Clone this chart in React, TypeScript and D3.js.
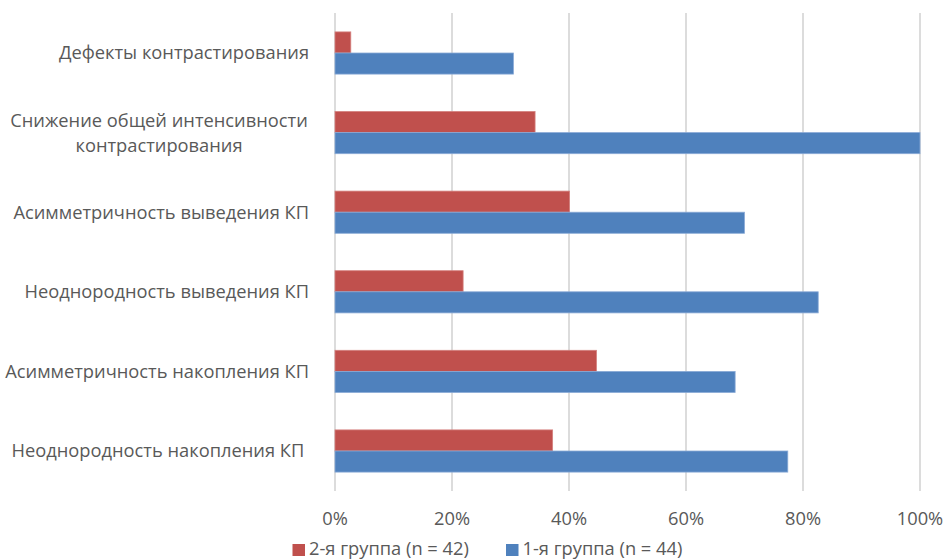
import React from "react";
import * as d3 from "d3";

// Categories, listed top to bottom
const categories: string[][] = [
  ["Дефекты контрастирования"],
  ["Снижение общей интенсивности", "контрастирования"],
  ["Асимметричность выведения КП"],
  ["Неоднородность выведения КП"],
  ["Асимметричность накопления КП"],
  ["Неоднородность накопления КП\u00a0"],
];

// Share of patients, per group (%)
const group2Values = [2.7, 34.2, 40.1, 21.9, 44.7, 37.2];
const group1Values = [30.5, 100, 70.0, 82.6, 68.4, 77.4];

const seriesNames = ["2-я группа (n = 42)", "1-я группа (n = 44)"];
const seriesColors = ["#C0504D", "#4F81BD"];

const xTicks = [0, 20, 40, 60, 80, 100];

const W = 945;
const H = 559;
const FONT = "'Open Sans', 'Noto Sans', sans-serif";
const TEXT = "#595959";
const FS = 18.3;

export default function App() {
  const x = d3.scaleLinear().domain([0, 100]).range([335, 920]);
  const keys = categories.map((_, i) => String(i));
  const y = d3
    .scaleBand<string>()
    .domain(keys)
    .range([13.2, 490.8])
    .paddingInner(0.47)
    .paddingOuter(0.235);
  const sub = d3
    .scaleBand<string>()
    .domain(["g2", "g1"])
    .range([0, y.bandwidth()]);

  const series = [
    { key: "g2", values: group2Values, color: seriesColors[0] },
    { key: "g1", values: group1Values, color: seriesColors[1] },
  ];

  const fmt = (v: number) => `${v}%`;

  return (
    <svg
      width={W}
      height={H}
      style={{ position: "absolute", left: 0, top: 0, background: "#fff" }}
      fontFamily={FONT}
    >
      {/* vertical gridlines */}
      {xTicks.map((t) => (
        <line
          key={t}
          x1={x(t)}
          x2={x(t)}
          y1={13}
          y2={491}
          stroke="#D9D9D9"
          strokeWidth={1.8}
        />
      ))}

      {/* bars */}
      {series.map((s) =>
        s.values.map((v, i) => (
          <rect
            key={s.key + i}
            x={x(0)}
            y={(y(String(i)) as number) + (sub(s.key) as number)}
            width={x(v) - x(0)}
            height={sub.bandwidth()}
            fill={s.color}
            stroke={s.key === "g2" ? "#D4807E" : "#8AAAD6"}
            strokeWidth={0.8}
          />
        ))
      )}

      {/* category labels */}
      {categories.map((lines, i) => {
        const cy = (y(String(i)) as number) + y.bandwidth() / 2;
        const lh = 25;
        const y0 = cy - ((lines.length - 1) * lh) / 2;
        const multi = lines.length > 1;
        const lx = multi ? 159 : 309;
        return (
          <text
            key={i}
            x={lx}
            textAnchor={multi ? "middle" : "end"}
            fontSize={FS}
            fill={TEXT}
            style={{ whiteSpace: "pre" }}
          >
            {lines.map((l, j) => (
              <tspan key={j} x={lx} y={y0 + j * lh} dy="0.35em">
                {l}
              </tspan>
            ))}
          </text>
        );
      })}

      {/* x tick labels */}
      {xTicks.map((t) => (
        <text
          key={t}
          x={x(t)}
          y={519}
          dy="0.35em"
          textAnchor="middle"
          fontSize={FS}
          fill={TEXT}
        >
          {fmt(t)}
        </text>
      ))}

      {/* legend */}
      {[292.5, 506].map((lx, i) => (
        <g key={i}>
          <rect x={lx} y={544} width={12.5} height={12} fill={seriesColors[i]} />
          <text x={lx + 16.5} y={549} dy="0.35em" fontSize={FS} fill={TEXT}>
            {seriesNames[i]}
          </text>
        </g>
      ))}
    </svg>
  );
}
